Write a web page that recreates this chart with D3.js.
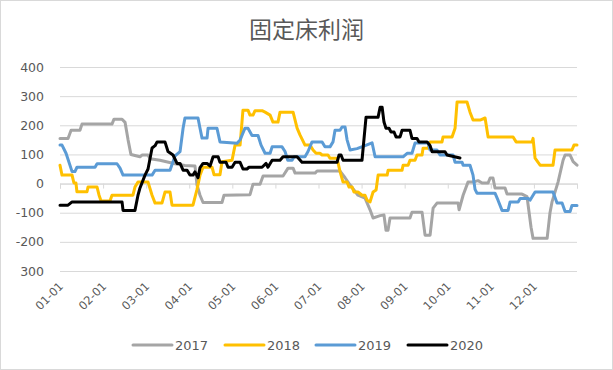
<!DOCTYPE html>
<html>
<head>
<meta charset="utf-8">
<script src="https://cdn.jsdelivr.net/npm/d3@7"></script>
<style>
  body { margin: 0; background: #fff; }
  text { font-family: "DejaVu Sans", sans-serif; fill: #595959; }
</style>
</head>
<body>
<div id="chart"></div>
<script>
var svgWidth = 613;
var svgHeight = 370;

// tick labels as shown on the chart (bottom one has no minus sign in the original)
var yTicks = [400, 300, 200, 100, 0, -100, -200, -300];
var yTickLabels = ["400", "300", "200", "100", "0", "-100", "-200", "300"];
var monthLabels = ["01-01", "02-01", "03-01", "04-01", "05-01", "06-01",
  "07-01", "08-01", "09-01", "10-01", "11-01", "12-01"];

var years = ["2017", "2018", "2019", "2020"];
var colors = ["#a5a5a5", "#ffc000", "#5b9bd5", "#000000"];

// [day of year (30-day months), profit]
var s2017 = [[0,155],[5.6,155],[7.7,183],[13.9,183],[15.3,204],[36.2,204],[37.6,221],[43.2,221],
  [45.3,210],[47.4,150],[49.4,100],[55.7,92],[57.1,98],[61.3,98],[62.7,85],[69.6,80],[80.1,68],
  [87,62],[94,60],[95.4,-5],[97.5,-40],[99.6,-65],[112.8,-65],[114.2,-40],[132.3,-38],[134.4,-2],
  [139.3,-2],[141.4,26],[155.3,26],[158.8,53],[162.3,53],[163.7,36],[177.6,36],[179,43],[195,43],
  [198.5,20],[202,-5],[207.5,-40],[212.4,-50],[215.9,-90],[218,-118],[222.9,-110],[225.6,-108],
  [227,-160],[228.4,-160],[229.8,-118],[243.7,-118],[245.1,-98],[252.1,-98],[254.2,-177],
  [257.7,-177],[259.8,-84],[262.5,-67],[277.2,-67],[277.9,-90],[280.7,-40],[284.1,5],[287.6,5],
  [291.1,10],[293.9,2],[298.1,2],[299.5,19],[301.5,19],[302.9,-15],[309.9,-15],[311.3,-36],
  [321.7,-36],[325.2,-45],[328,-150],[329.4,-188],[339.2,-188],[341.2,-100],[342.6,-63],
  [346.8,5],[350.3,80],[351.7,98],[355.2,98],[357.3,75],[360,63]];

var s2018 = [[0,63],[1.4,29],[8.4,29],[9.7,2],[11.1,2],[11.8,-28],[18.8,-28],[19.5,-12],[25.8,-12],
  [27.2,-40],[28.6,-60],[34.8,-60],[36.2,-40],[50.8,-40],[52.2,-12],[54.3,5],[61.3,5],[64.1,-40],
  [66.2,-67],[71,-67],[73.1,-29],[76.6,-29],[78,-74],[92.6,-74],[95.4,-20],[97.5,29],[99.6,56],
  [105.9,56],[107.3,30],[111.4,30],[112.8,75],[119.8,80],[121.9,132],[125.4,132],[127.4,252],
  [130.9,252],[132.3,235],[134.4,235],[135.8,250],[140.7,250],[142.8,245],[146.3,235],[148.3,211],
  [151.8,211],[153.2,245],[162.3,245],[165.1,190],[167.1,167],[170.6,132],[174.1,132],[176.2,115],
  [178.3,104],[181,104],[182.5,98],[186.6,98],[188,87],[192.9,87],[195,41],[197.1,5],[199.9,5],
  [201.3,-12],[203.4,-12],[204.7,-29],[207.5,-29],[210.3,-40],[212.4,-40],[213.8,-57],[215.9,-63],
  [218,-29],[220.1,-22],[221.5,29],[227.8,29],[228.5,46],[238.2,46],[238.9,63],[242.4,63],
  [243.7,80],[247.2,80],[248.6,98],[252.1,98],[252.8,121],[256.3,121],[257.7,143],[266,143],
  [266.7,160],[273,160],[275.1,190],[276.5,280],[283.4,280],[285.5,245],[287.6,218],[292.5,218],
  [296,225],[298.1,160],[315.5,160],[317.6,143],[328.7,143],[329.4,155],[330.8,87],[334.3,63],
  [343.3,63],[344.7,115],[356.5,115],[357.9,132],[360,132]];

var s2019 = [[0,132],[1.4,132],[4.2,104],[8.4,41],[10.4,41],[11.8,56],[24.4,56],[25.8,68],
  [39.7,68],[41.8,53],[43.9,29],[64.1,29],[66.2,46],[76.6,46],[80.1,95],[83.6,110],[85.7,190],
  [87,225],[96.1,225],[97.5,190],[98.9,156],[102.4,156],[103.1,190],[109.3,190],[111.4,143],
  [123.3,138],[125.4,150],[128.8,190],[130.9,190],[133.7,165],[137.9,165],[140,132],[142.8,104],
  [146.3,104],[147.7,126],[154.6,126],[156.7,110],[158.6,80],[161.6,80],[163,92],[170.6,92],
  [172.7,110],[175.5,143],[182.5,143],[184.5,126],[188,126],[190.1,143],[191.5,183],[195,183],
  [196.4,194],[198.5,194],[199.9,150],[202,115],[206.8,120],[212.4,130],[217.3,140],[219.4,92],
  [238.9,92],[241.7,104],[245.1,104],[247.2,139],[256.3,139],[257.7,115],[262.5,115],[264.6,98],
  [273.7,98],[275.1,73],[280,73],[280.7,63],[285.5,63],[287.6,29],[289,-20],[290.4,-33],
  [302.9,-33],[305,-57],[307.8,-92],[312,-92],[313.4,-63],[319,-63],[320.4,-51],[326,-51],
  [327.3,-57],[329.4,-40],[330.8,-29],[343.3,-29],[346.1,-67],[349.6,-67],[351.7,-96],
  [355.2,-96],[356.5,-75],[360,-75]];

var s2020 = [[0,-74],[5.6,-74],[8.4,-63],[43.2,-63],[43.9,-92],[52.2,-92],[54.3,-40],[55.7,-15],
  [59.2,29],[61.3,50],[64.1,122],[66.2,130],[67.6,143],[73.1,143],[75.2,110],[78.7,98],[81.5,69],
  [83.6,69],[85.7,46],[88.5,46],[90.5,29],[92.6,29],[94,40],[96.1,20],[97.5,55],[99.6,69],
  [102.4,69],[104.5,60],[106.6,92],[110.1,92],[111.4,73],[115.6,73],[117,56],[119.8,56],
  [121.9,73],[125.4,73],[127.4,50],[130.2,50],[131.6,56],[140.7,56],[143.5,69],[144.8,56],
  [147.7,80],[153.2,80],[155.3,92],[165.1,92],[168.5,73],[192.9,73],[194.3,98],[195.7,98],
  [197.1,80],[210.3,80],[213.1,228],[221.5,228],[222.9,262],[224.3,262],[225.6,211],[227,190],
  [229.1,190],[230.5,177],[232.6,177],[234,160],[236.8,160],[238.2,183],[243.7,183],[245.1,155],
  [248.6,155],[250,143],[255.6,143],[257.7,130],[259.1,109],[268.1,109],[269.5,98],[278.5,88]];

var seriesData = [s2017, s2018, s2019, s2020];

var plot = { left: 60, right: 577, top: 67, bottom: 271 };

var svg = d3.select("#chart")
  .append("svg")
  .attr("width", svgWidth)
  .attr("height", svgHeight);

// chart border
svg.append("rect")
  .attr("x", 0.5).attr("y", 0.5)
  .attr("width", svgWidth - 1).attr("height", svgHeight - 1)
  .attr("fill", "#fff")
  .attr("stroke", "#d9d9d9");

var x = d3.scaleLinear().domain([0, 360]).range([plot.left, plot.right]);
var y = d3.scaleLinear().domain([-300, 400]).range([plot.bottom, plot.top]);

// title
svg.append("text")
  .attr("x", svgWidth / 2)
  .attr("y", 38)
  .attr("text-anchor", "middle")
  .style("font-family", "'Noto Sans CJK SC', sans-serif")
  .style("font-size", "23px")
  .text("固定床利润");

// gridlines + y labels
var yAxis = d3.axisLeft(y)
  .tickValues(yTicks)
  .tickSize(-(plot.right - plot.left))
  .tickFormat(function(d, i) { return yTickLabels[i]; });

var yAxisG = svg.append("g")
  .attr("transform", `translate(${plot.left}, 0)`)
  .call(yAxis);
yAxisG.select(".domain").remove();
yAxisG.selectAll("line").attr("stroke", "#d9d9d9");
yAxisG.selectAll("text")
  .attr("x", -16)
  .style("font-size", "12.5px")
  .style("font-family", "'DejaVu Sans', sans-serif")
  .attr("fill", "#595959");

// horizontal axis sits at zero, labels at the bottom
var monthTicks = d3.range(0, 13).map(function(i) { return i * 30; });
var xAxis = d3.axisBottom(x)
  .tickValues(monthTicks)
  .tickSize(5)
  .tickFormat("");
var xAxisG = svg.append("g")
  .attr("transform", `translate(0, ${y(0)})`)
  .call(xAxis);
xAxisG.select(".domain").attr("stroke", "#d9d9d9");
xAxisG.selectAll("line").attr("stroke", "#d9d9d9");

svg.append("g").selectAll("text")
  .data(monthLabels)
  .enter()
  .append("text")
  .attr("text-anchor", "end")
  .attr("transform", (d, i) => `translate(${x(i * 30) + 4}, ${plot.bottom + 16}) rotate(-45)`)
  .style("font-size", "11.5px")
  .text(d => d);

// lines
var line = d3.line()
  .x(d => x(d[0]))
  .y(d => y(d[1]));

svg.append("g").selectAll("path")
  .data(seriesData)
  .enter()
  .append("path")
  .attr("d", line)
  .attr("fill", "none")
  .attr("stroke", (d, i) => colors[i])
  .attr("stroke-width", 3)
  .attr("stroke-linejoin", "round")
  .attr("stroke-linecap", "round");

// legend
var legendX = [133, 225, 316, 408];
var legend = svg.append("g").selectAll("g")
  .data(years)
  .enter()
  .append("g")
  .attr("transform", (d, i) => `translate(${legendX[i]}, 345)`);

legend.append("line")
  .attr("x1", 0).attr("x2", 39)
  .attr("stroke", (d, i) => colors[i])
  .attr("stroke-width", 3)
  .attr("stroke-linecap", "round");

legend.append("text")
  .attr("x", 42)
  .attr("y", 5)
  .style("font-size", "13px")
  .text(d => d);
</script>
</body>
</html>
